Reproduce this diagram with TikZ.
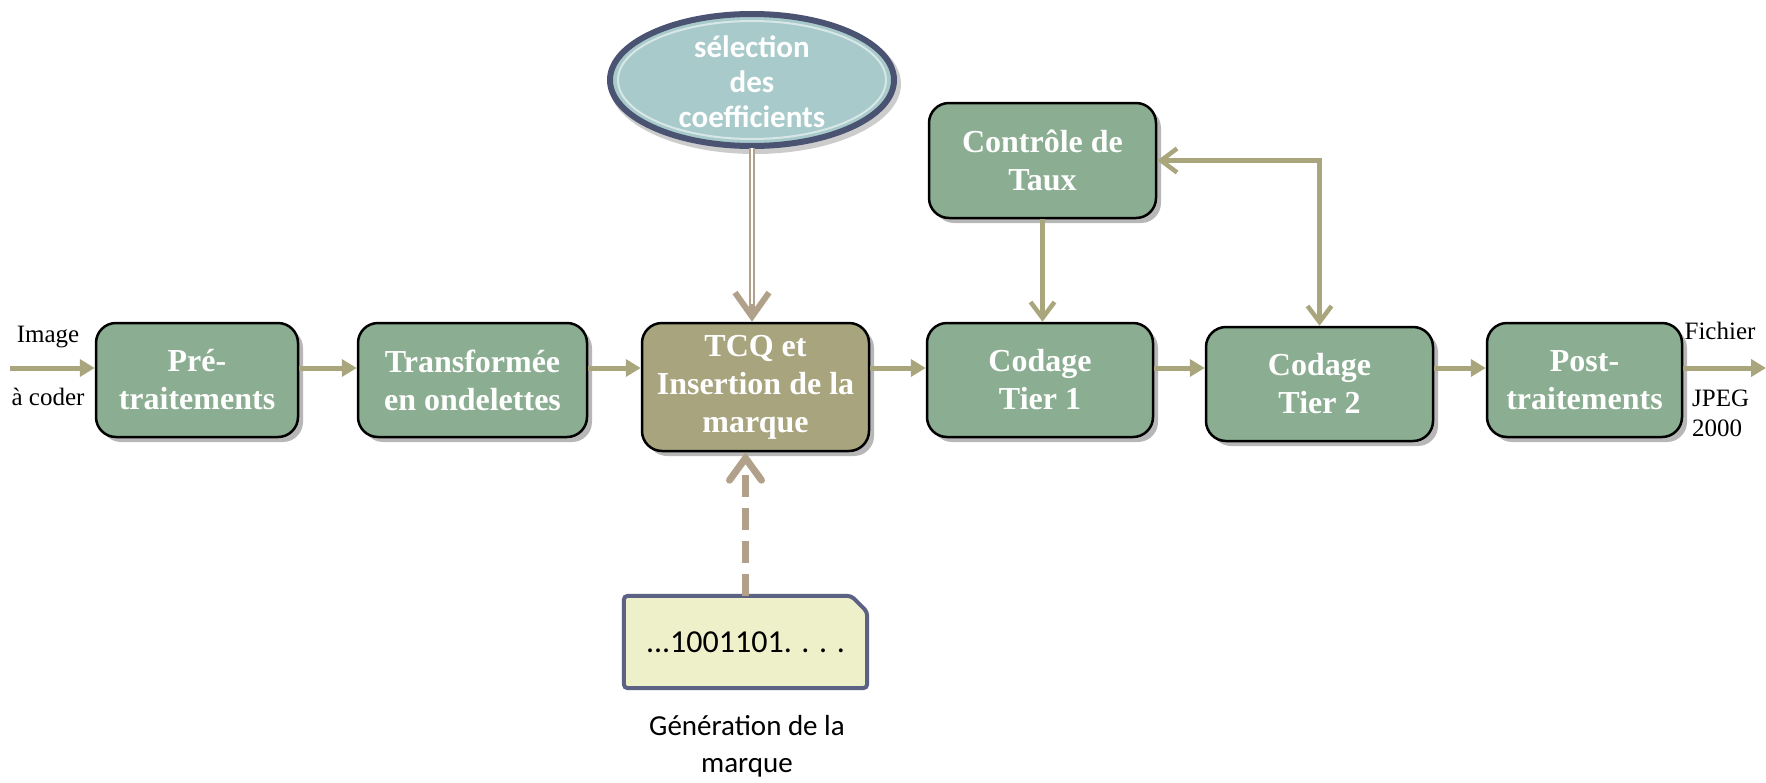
\documentclass[tikz,border=0pt]{standalone}
\usepackage{fontspec}
\setmainfont{Liberation Serif}
\newfontfamily\calfont{Carlito}
\usetikzlibrary{arrows.meta,shadows,calc}
\definecolor{boxgreen}{HTML}{8BAE92}
\definecolor{tcqolive}{HTML}{A8A47D}
\definecolor{arrowolive}{HTML}{A9A67E}
\definecolor{tanline}{HTML}{B1A18B}
\definecolor{ellfill}{HTML}{A8CACA}
\definecolor{ellborder}{HTML}{4B5373}
\definecolor{docfill}{HTML}{EEF0C9}
\definecolor{docborder}{HTML}{5B6283}
\tikzset{
  procbox/.style={draw=black, line width=2.5pt, rounded corners=20pt, fill=boxgreen,
    text=white, align=center, inner sep=2pt,
    font=\fontsize{32}{38}\selectfont\bfseries,
    drop shadow={shadow xshift=5pt, shadow yshift=-5pt, opacity=0.4, fill=black!70}},
  flowarrow/.style={draw=arrowolive, line width=5pt, -{Triangle[length=15pt,width=17pt]}},
  barbarrow/.style={draw=arrowolive, line width=4.5pt, -{Straight Barb[length=16pt,width=24pt]}},
  barbboth/.style={draw=arrowolive, line width=4.5pt, {Straight Barb[length=16pt,width=24pt]}-{Straight Barb[length=16pt,width=24pt]}},
  plainlabel/.style={font=\fontsize{25}{30}\selectfont, inner sep=0pt},
}
\begin{document}
\begin{tikzpicture}[x=1pt,y=-1pt]
\useasboundingbox (0,0) rectangle (1766,782);
% process boxes
\node[procbox, minimum width=202pt, minimum height=114pt] (pre) at (197,380) {Pré-\\traitements};
\node[procbox, minimum width=229pt, minimum height=114pt] (trans) at (472.5,380) {Transformée\\en ondelettes};
\node[procbox, fill=tcqolive, minimum width=227pt, minimum height=128pt] (tcq) at (755.5,387) {TCQ et\\Insertion de la\\marque};
\node[procbox, minimum width=226pt, minimum height=114pt] (t1) at (1040,380) {Codage\\Tier 1};
\node[procbox, minimum width=227pt, minimum height=114pt] (t2) at (1319.5,384) {Codage\\Tier 2};
\node[procbox, minimum width=195pt, minimum height=114pt] (post) at (1584.5,380) {Post-\\traitements};
\node[procbox, minimum width=227pt, minimum height=115pt] (ctrl) at (1042.5,160.5) {Contrôle de\\Taux};
% ellipse
\fill[black, opacity=0.2] (755,84) ellipse [x radius=146pt, y radius=70pt];
\draw[ellborder, line width=6pt, fill=ellfill] (752,80) ellipse [x radius=142pt, y radius=66pt];
\draw[white, opacity=0.55, line width=2pt] (752,80) ellipse [x radius=134pt, y radius=59pt];
\node[minimum width=290pt, minimum height=139pt, inner sep=0pt,
  text=white, align=center, font=\calfont\fontsize{31}{35}\selectfont\bfseries] (ell) at (752,82) {sélection\\des\\coefficients};
% document shape
\node[minimum width=243pt, minimum height=92pt, inner sep=0pt] (doc) at (745.5,642) {};
\draw[docborder, fill=docfill, line width=4pt, rounded corners=4pt]
  (doc.south west) -- (doc.north west) -- ($(doc.north east)+(-16,0)$) -- ($(doc.north east)+(0,16)$) -- (doc.south east) -- cycle;
\node[font=\calfont\fontsize{32}{36}\selectfont, inner sep=0pt] (bits) at (doc.center) {...1001101. . . .};
\node[font=\calfont\fontsize{29}{37}\selectfont, align=center, inner sep=0pt] (gen) at (747,746) {Génération de la\\marque};
% coordinates for free ends
\coordinate (inS) at (10,368);
\coordinate (outE) at (1766,368);
% main flow
\draw[flowarrow] (inS) -- (pre.west |- inS);
\draw[flowarrow] (pre.east |- inS) -- (trans.west |- inS);
\draw[flowarrow] (trans.east |- inS) -- (tcq.west |- inS);
\draw[flowarrow] (tcq.east |- inS) -- (t1.west |- inS);
\draw[flowarrow] (t1.east |- inS) -- (t2.west |- inS);
\draw[flowarrow] (t2.east |- inS) -- (post.west |- inS);
\draw[flowarrow] (post.east |- inS) -- (outE);
% rate control
\draw[barbarrow] (ctrl.south) -- (ctrl.south |- t1.north);
\draw[barbboth] (ctrl.east) -| (t2.north);
% coefficient selection (double line)
\coordinate (selEnd) at (ell.south |- tcq.north);
\draw[tanline, line width=2.2pt, double=white, double distance=2.5pt] (ell.south |- 0,148) -- ($(selEnd)+(0,-16)$);
\draw[tanline, line width=6pt, -{Straight Barb[length=24pt,width=34pt]}] ($(selEnd)+(0,-18)$) -- (selEnd);
% watermark dashed arrow
\draw[tanline, line width=7pt, dash pattern=on 22pt off 11pt, line cap=butt,
  -{Straight Barb[length=22pt,width=32pt,line cap=round]}] (doc.north |- 0,596) -- (doc.north |- tcq.south);
% labels
\node[plainlabel] (limg) at (48,337) {Image};
\node[plainlabel] (lcod) at (48,397) {à coder};
\node[plainlabel] (lfich) at (1720,331) {Fichier};
\node[plainlabel, anchor=west] (ljpeg) at (1692,398) {JPEG};
\node[plainlabel, anchor=west] (l2000) at (1692,428) {2000};
\end{tikzpicture}
\end{document}
